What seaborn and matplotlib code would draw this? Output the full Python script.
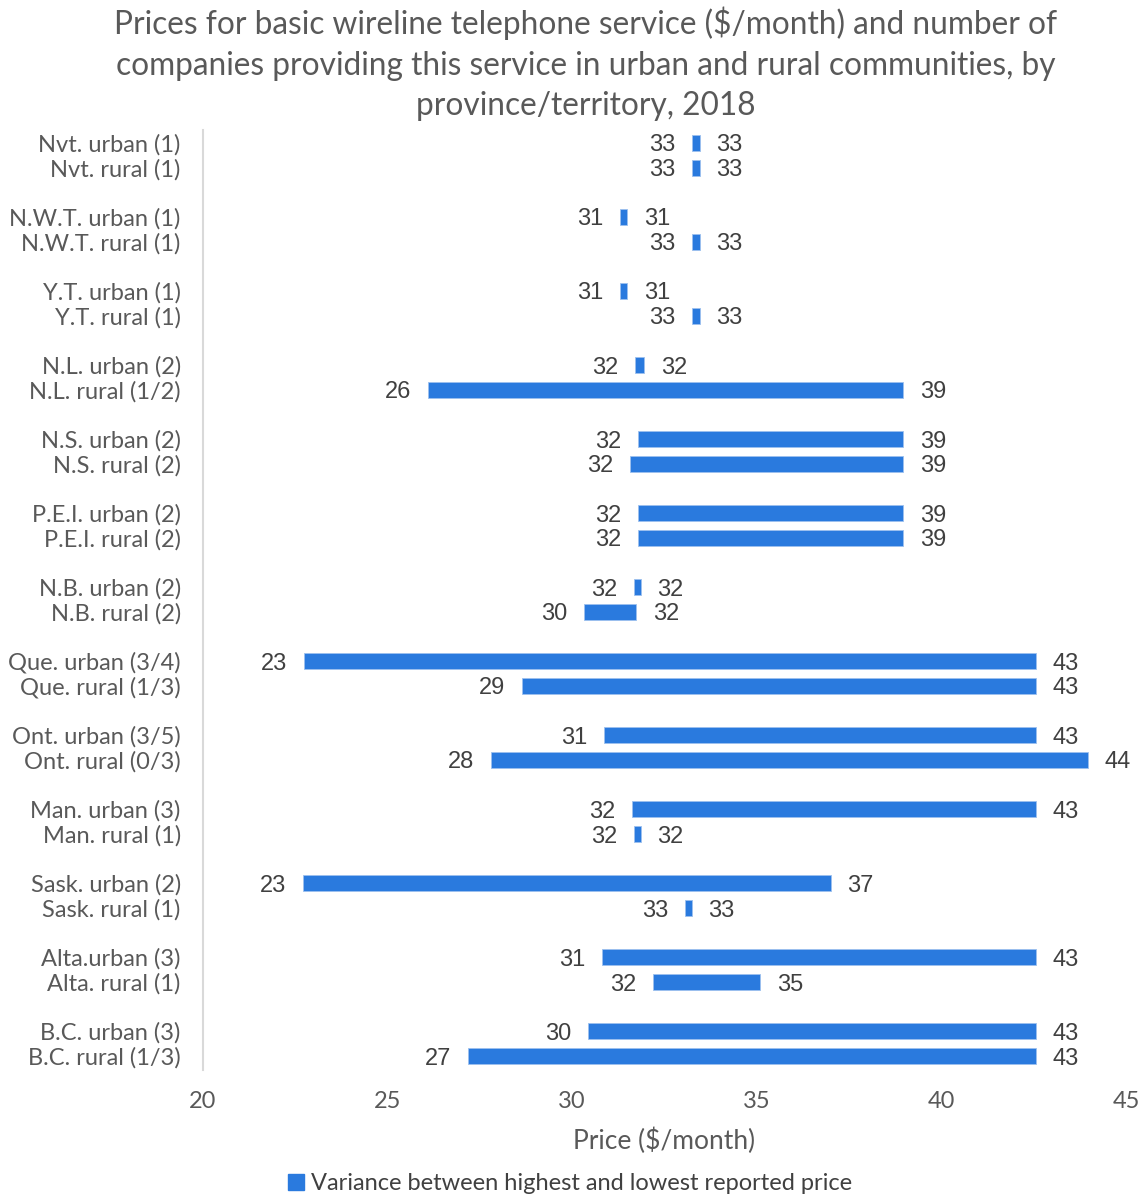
import matplotlib
matplotlib.use("Agg")
import matplotlib.pyplot as plt
import seaborn as sns
import numpy as np
import pandas as pd
from matplotlib.patches import Patch

# ---- data ----
categories = [
    "Nvt. urban (1)", "Nvt. rural (1)",
    "N.W.T. urban (1)", "N.W.T. rural (1)",
    "Y.T. urban (1)", "Y.T. rural (1)",
    "N.L. urban (2)", "N.L. rural (1/2)",
    "N.S. urban (2)", "N.S. rural (2)",
    "P.E.I. urban (2)", "P.E.I. rural (2)",
    "N.B. urban (2)", "N.B. rural (2)",
    "Que. urban (3/4)", "Que. rural (1/3)",
    "Ont. urban (3/5)", "Ont. rural (0/3)",
    "Man. urban (3)", "Man. rural (1)",
    "Sask. urban (2)", "Sask. rural (1)",
    "Alta.urban (3)", "Alta. rural (1)",
    "B.C. urban (3)", "B.C. rural (1/3)",
]
low_price = [33.25, 33.25, 31.3, 33.25, 31.3, 33.25, 31.7, 26.09, 31.78, 31.57,
             31.78, 31.78, 31.67, 30.32, 22.74, 28.64, 30.86, 27.8, 31.62, 31.67,
             22.71, 33.05, 30.8, 32.2, 30.43, 27.18]
high_price = [33.45, 33.45, 31.49, 33.45, 31.49, 33.45, 31.95, 38.96, 38.96, 38.96,
              38.96, 38.96, 31.86, 31.73, 42.56, 42.56, 42.56, 43.97, 42.56, 31.86,
              37.0, 33.24, 42.56, 35.09, 42.56, 42.56]
title = ("Prices for basic wireline telephone service ($/month) and number of\n"
         "companies providing this service in urban and rural communities, by\n"
         "province/territory, 2018")
legend_label = "Variance between highest and lowest reported price"
x_label = "Price ($/month)"
x_ticks = [20, 25, 30, 35, 40, 45]

df = pd.DataFrame({"category": categories, "low": low_price, "high": high_price})
n = len(df)
group = np.arange(n) // 2
within = np.arange(n) % 2
df["pos"] = group * 2.964 + within

# ---- style ----
sns.set_theme(style="white")
plt.rcParams["font.family"] = ["Lato", "DejaVu Sans"]

W, H = 1146, 1196
fig = plt.figure(figsize=(W / 100, H / 100), dpi=100)
ax = fig.add_axes([203 / W, 1 - 1070 / H, (1126 - 203) / W, (1070 - 130) / H])

bar_color = "#2A7ADE"
ax.barh(df["pos"], df["high"] - df["low"], left=df["low"], height=0.64,
        color=bar_color, edgecolor="#9DC0EE", linewidth=0.6)

val_color = "#404040"
for _, r in df.iterrows():
    ax.annotate(f"{r['low']:.0f}", xy=(r["low"], r["pos"]), xytext=(-12, 0),
                textcoords="offset points", ha="right", va="center_baseline",
                fontsize=17, color=val_color, family=["Liberation Sans", "DejaVu Sans"])
    ax.annotate(f"{r['high']:.0f}", xy=(r["high"], r["pos"]), xytext=(12, 0),
                textcoords="offset points", ha="left", va="center_baseline",
                fontsize=17, color=val_color, family=["Liberation Sans", "DejaVu Sans"])

ax.set_xlim(20, 45)
ax.set_ylim(df["pos"].max() + 0.56, -0.52)
ax.set_xticks(x_ticks)
ax.set_xticklabels([str(t) for t in x_ticks])
ax.set_yticks(df["pos"])
ax.set_yticklabels(df["category"])
ax.tick_params(axis="y", length=0, pad=16, labelsize=17, labelcolor="#595959")
ax.tick_params(axis="x", length=0, pad=15, labelsize=17, labelcolor="#595959")
for s in ["top", "right", "bottom"]:
    ax.spines[s].set_visible(False)
ax.spines["left"].set_color("#D9D9D9")
ax.spines["left"].set_linewidth(1.5)
ax.set_xlabel(x_label, fontsize=19, color="#595959", labelpad=11)
ax.set_ylabel("")

fig.text(0.511, 1 - 7 / H, title, ha="center", va="top", fontsize=22.8,
         color="#595959", linespacing=1.42)

handle = Patch(facecolor=bar_color, edgecolor=bar_color)
fig.legend([handle], [legend_label], loc="center", bbox_to_anchor=(570 / W, 1 - 1184 / H),
           frameon=False, fontsize=17, handlelength=0.65, handleheight=0.65,
           handletextpad=0.3, labelcolor="#404040")

fig.savefig("out.png", dpi=100)
